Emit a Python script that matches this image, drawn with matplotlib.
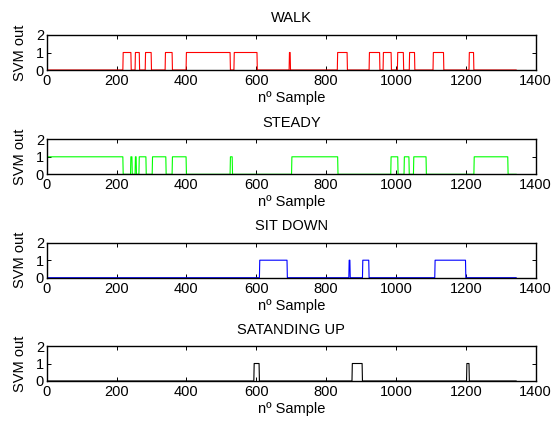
import numpy as np
import matplotlib
matplotlib.use("Agg")
import matplotlib.pyplot as plt

plt.rcParams['font.family'] = ['Liberation Sans', 'DejaVu Sans']

n_samples = 1345
titles = ["WALK", "STEADY", "SIT DOWN", "SATANDING UP"]
colors = ["#ff0000", "#00ff00", "#0000ff", "#000000"]

# Intervals (start, end) in samples where the SVM output equals 1
walk_on = [(219, 241), (254, 265), (283, 299), (340, 359), (400, 525),
           (537, 602), (695, 697), (833, 860), (924, 953), (964, 986),
           (1005, 1021), (1039, 1053), (1107, 1136), (1210, 1222)]
steady_on = [(0, 218), (241, 244), (254, 256), (265, 284), (303, 341),
             (360, 399), (526, 531), (702, 833), (986, 1005), (1024, 1037),
             (1051, 1086), (1224, 1320)]
sitdown_on = [(610, 688), (866, 868), (905, 922), (1112, 1199)]
standup_on = [(594, 608), (875, 903), (1203, 1209)]

series_on = [walk_on, steady_on, sitdown_on, standup_on]

x_ticks = [0, 200, 400, 600, 800, 1000, 1200, 1400]
y_ticks = [0, 1, 2]

W, H = 551, 421
fig = plt.figure(figsize=(W / 100, H / 100), dpi=100)

left_px, right_px = 46.7, 535.7
tops_px = [35.0, 139.3, 242.7, 346.0]
height_px = 35.0
fs = 10.5

sample = np.arange(n_samples)
for i, (title, col, on) in enumerate(zip(titles, colors, series_on)):
    top = tops_px[i]
    ax = fig.add_axes([left_px / W, 1 - (top + height_px) / H,
                       (right_px - left_px) / W, height_px / H])
    y = np.zeros(n_samples)
    for a, b in on:
        y[a:b + 1] = 1
    ax.plot(sample, y, color=col, lw=0.8)
    ax.set_xlim(0, 1400)
    ax.set_ylim(0, 2)
    ax.set_xticks(x_ticks)
    ax.set_yticks(y_ticks)
    ax.tick_params(direction='in', length=3, width=0.7, top=True, right=True,
                   labelsize=fs)
    ax.tick_params(axis='x', pad=3)
    ax.tick_params(axis='y', pad=2)
    for s in ax.spines.values():
        s.set_linewidth(1.0)
    ax.set_title(title, fontsize=fs, pad=9)
    ax.set_ylabel("SVM out", fontsize=fs, labelpad=6)
    ax.set_xlabel("nº Sample", fontsize=fs, labelpad=2)

fig.savefig("out.png", dpi=100)
